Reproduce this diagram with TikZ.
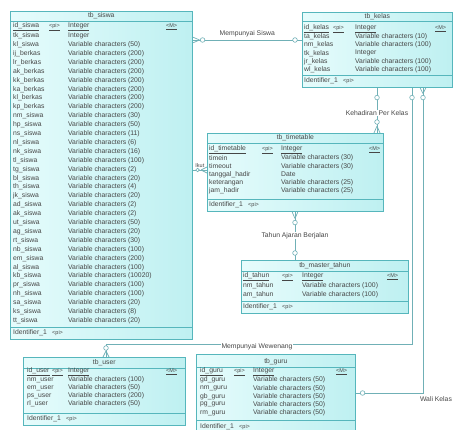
\documentclass[tikz,border=0pt]{standalone}
\usepackage{fontspec}
\setmainfont{Liberation Sans}
\usepackage{xcolor}
\definecolor{tableborder}{RGB}{86,182,188}
\definecolor{tablelight}{RGB}{230,252,252}
\definecolor{tabledark}{RGB}{190,240,241}
\definecolor{linkteal}{RGB}{112,176,182}
\definecolor{textgray}{RGB}{70,70,70}
\usepackage{tikz}
\usetikzlibrary{positioning, calc}

\begin{document}
\begin{tikzpicture}[x=1pt, y=-1pt,
    entity/.style={draw=tableborder, line width=0.6pt, left color=tablelight, right color=tabledark, anchor=north west, inner sep=0pt},
    sepline/.style={draw=tableborder, line width=0.5pt},
    attr/.style={anchor=west, inner sep=0pt, text=textgray, font=\fontsize{6.8}{8}\selectfont},
    tag/.style={anchor=west, inner sep=0pt, text=textgray, font=\fontsize{5.5}{6}\selectfont},
    tabtitle/.style={inner sep=0pt, text=textgray, font=\fontsize{6.8}{8}\selectfont},
    link/.style={draw=linkteal, line width=0.7pt},
    card/.style={circle, draw=linkteal, fill=white, line width=0.6pt, inner sep=0pt, minimum size=4.6pt},
    lbl/.style={fill=white, inner sep=0.5pt, text=textgray, font=\fontsize{6.8}{8}\selectfont}]

    \useasboundingbox (0,0) rectangle (453,430);
    \clip (0,0) rectangle (453,430);

    % tb_siswa
    \node[entity, minimum width=182, minimum height=328] (siswa) at (10,11) {};
    \node[tabtitle] (siswa-title) at ($(siswa.north)+(0,5)$) {tb\_siswa};
    \draw[sepline] ($(siswa.north west)+(0,10)$) -- ($(siswa.north east)+(0,10)$);
    \draw[sepline] ($(siswa.north west)+(0,316)$) -- ($(siswa.north east)+(0,316)$);
    \node[attr] (siswa-id) at ($(siswa.north west)+(3,16)$) {\underline{id\_siswa}};
    \node[tag] (siswa-pi) at ($(siswa.north west)+(39,16)$) {\underline{<pi>}};
    \node[attr] (siswa-ty) at ($(siswa.north west)+(58,16)$) {\underline{Integer}};
    \node[tag] (siswa-m) at ($(siswa.north west)+(156,16)$) {\underline{<M>}};
    \foreach \f/\t [count=\i] in {tk\_siswa/Integer, kl\_siswa/Variable characters (50),
        ij\_berkas/Variable characters (200), lr\_berkas/Variable characters (200),
        ak\_berkas/Variable characters (200), kk\_berkas/Variable characters (200),
        ka\_berkas/Variable characters (200), kl\_berkas/Variable characters (200),
        kp\_berkas/Variable characters (200), nm\_siswa/Variable characters (30),
        hp\_siswa/Variable characters (50), ns\_siswa/Variable characters (11),
        nl\_siswa/Variable characters (6), nk\_siswa/Variable characters (16),
        tl\_siswa/Variable characters (100), tg\_siswa/Variable characters (2),
        bl\_siswa/Variable characters (20), th\_siswa/Variable characters (4),
        jk\_siswa/Variable characters (20), ad\_siswa/Variable characters (2),
        ak\_siswa/Variable characters (2), ut\_siswa/Variable characters (50),
        ag\_siswa/Variable characters (20), rt\_siswa/Variable characters (30),
        nb\_siswa/Variable characters (100), em\_siswa/Variable characters (200),
        al\_siswa/Variable characters (100), kb\_siswa/Variable characters (10020),
        pr\_siswa/Variable characters (100), nh\_siswa/Variable characters (100),
        sa\_siswa/Variable characters (20), ks\_siswa/Variable characters (8),
        tt\_siswa/Variable characters (20)} {
        \node[attr] (siswa-f\i) at ($(siswa.north west)+(3,16+8.9*\i)$) {\f};
        \node[attr] (siswa-t\i) at ($(siswa.north west)+(58,16+8.9*\i)$) {\t};
    }
    \node[attr] (siswa-key) at ($(siswa.north west)+(3,322)$) {Identifier\_1};
    \node[tag, right=5pt of siswa-key] (siswa-keypi) {<pi>};

    % tb_kelas
    \node[entity, minimum width=150, minimum height=75] (kelas) at (302,12) {};
    \node[tabtitle] (kelas-title) at ($(kelas.north)+(0,5)$) {tb\_kelas};
    \draw[sepline] ($(kelas.north west)+(0,9)$) -- ($(kelas.north east)+(0,9)$);
    \draw[sepline] ($(kelas.north west)+(0,63)$) -- ($(kelas.north east)+(0,63)$);
    \node[attr] (kelas-id) at ($(kelas.north west)+(2,17)$) {\underline{id\_kelas}};
    \node[tag] (kelas-pi) at ($(kelas.north west)+(31,17)$) {\underline{<pi>}};
    \node[attr] (kelas-ty) at ($(kelas.north west)+(53,17)$) {\underline{Integer}};
    \node[tag] (kelas-m) at ($(kelas.north west)+(133,17)$) {\underline{<M>}};
    \foreach \f/\t [count=\i] in {ta\_kelas/Variable characters (10), nm\_kelas/Variable characters (100),
        tk\_kelas/Integer, jr\_kelas/Variable characters (100), wl\_kelas/Variable characters (100)} {
        \node[attr] (kelas-f\i) at ($(kelas.north west)+(2,17+8.1*\i)$) {\f};
        \node[attr] (kelas-t\i) at ($(kelas.north west)+(53,17+8.1*\i)$) {\t};
    }
    \node[attr] (kelas-key) at ($(kelas.north west)+(2,69)$) {Identifier\_1};
    \node[tag, right=5pt of kelas-key] (kelas-keypi) {<pi>};

    % tb_timetable
    \node[entity, minimum width=176, minimum height=78] (timetable) at (207,133) {};
    \node[tabtitle] (timetable-title) at ($(timetable.north)+(0,5)$) {tb\_timetable};
    \draw[sepline] ($(timetable.north west)+(0,10)$) -- ($(timetable.north east)+(0,10)$);
    \draw[sepline] ($(timetable.north west)+(0,66)$) -- ($(timetable.north east)+(0,66)$);
    \node[attr] (timetable-id) at ($(timetable.north west)+(2,17)$) {\underline{id\_timetable}};
    \node[tag] (timetable-pi) at ($(timetable.north west)+(55,17)$) {\underline{<pi>}};
    \node[attr] (timetable-ty) at ($(timetable.north west)+(74,17)$) {\underline{Integer}};
    \node[tag] (timetable-m) at ($(timetable.north west)+(162,17)$) {\underline{<M>}};
    \foreach \f/\t [count=\i] in {timein/Variable characters (30), timeout/Variable characters (30),
        tanggal\_hadir/Date, keterangan/Variable characters (25), jam\_hadir/Variable characters (25)} {
        \node[attr] (timetable-f\i) at ($(timetable.north west)+(2,17+8.2*\i)$) {\f};
        \node[attr] (timetable-t\i) at ($(timetable.north west)+(74,17+8.2*\i)$) {\t};
    }
    \node[attr] (timetable-key) at ($(timetable.north west)+(2,72)$) {Identifier\_1};
    \node[tag, right=5pt of timetable-key] (timetable-keypi) {<pi>};

    % tb_master_tahun
    \node[entity, minimum width=167, minimum height=53] (tahun) at (241,260) {};
    \node[tabtitle] (tahun-title) at ($(tahun.north)+(0,6)$) {tb\_master\_tahun};
    \draw[sepline] ($(tahun.north west)+(0,11)$) -- ($(tahun.north east)+(0,11)$);
    \draw[sepline] ($(tahun.north west)+(0,41)$) -- ($(tahun.north east)+(0,41)$);
    \node[attr] (tahun-id) at ($(tahun.north west)+(2,17)$) {\underline{id\_tahun}};
    \node[tag] (tahun-pi) at ($(tahun.north west)+(41,17)$) {\underline{<pi>}};
    \node[attr] (tahun-ty) at ($(tahun.north west)+(61,17)$) {\underline{Integer}};
    \node[tag] (tahun-m) at ($(tahun.north west)+(146,17)$) {\underline{<M>}};
    \foreach \f/\t [count=\i] in {nm\_tahun/Variable characters (100), am\_tahun/Variable characters (100)} {
        \node[attr] (tahun-f\i) at ($(tahun.north west)+(2,17+9*\i)$) {\f};
        \node[attr] (tahun-t\i) at ($(tahun.north west)+(61,17+9*\i)$) {\t};
    }
    \node[attr] (tahun-key) at ($(tahun.north west)+(2,47)$) {Identifier\_1};
    \node[tag, right=5pt of tahun-key] (tahun-keypi) {<pi>};

    % tb_user
    \node[entity, minimum width=162, minimum height=68] (user) at (23,357) {};
    \node[tabtitle] (user-title) at ($(user.north)+(0,6)$) {tb\_user};
    \draw[sepline] ($(user.north west)+(0,11)$) -- ($(user.north east)+(0,11)$);
    \draw[sepline] ($(user.north west)+(0,56)$) -- ($(user.north east)+(0,56)$);
    \node[attr] (user-id) at ($(user.north west)+(4,15)$) {\underline{id\_user}};
    \node[tag] (user-pi) at ($(user.north west)+(29,15)$) {\underline{<pi>}};
    \node[attr] (user-ty) at ($(user.north west)+(45,15)$) {\underline{Integer}};
    \node[tag] (user-m) at ($(user.north west)+(143,15)$) {\underline{<M>}};
    \foreach \f/\t [count=\i] in {nm\_user/Variable characters (100), em\_user/Variable characters (50),
        ps\_user/Variable characters (200), rl\_user/Variable characters (50)} {
        \node[attr] (user-f\i) at ($(user.north west)+(4,15+8*\i)$) {\f};
        \node[attr] (user-t\i) at ($(user.north west)+(45,15+8*\i)$) {\t};
    }
    \node[attr] (user-key) at ($(user.north west)+(4,62)$) {Identifier\_1};
    \node[tag, right=5pt of user-key] (user-keypi) {<pi>};

    % tb_guru
    \node[entity, minimum width=159, minimum height=82] (guru) at (196,354) {};
    \node[tabtitle] (guru-title) at ($(guru.north)+(0,8)$) {tb\_guru};
    \draw[sepline] ($(guru.north west)+(0,13)$) -- ($(guru.north east)+(0,13)$);
    \draw[sepline] ($(guru.north west)+(0,66)$) -- ($(guru.north east)+(0,66)$);
    \node[attr] (guru-id) at ($(guru.north west)+(4,18)$) {\underline{id\_guru}};
    \node[tag] (guru-pi) at ($(guru.north west)+(38,18)$) {\underline{<pi>}};
    \node[attr] (guru-ty) at ($(guru.north west)+(57,18)$) {\underline{Integer}};
    \node[tag] (guru-m) at ($(guru.north west)+(140,18)$) {\underline{<M>}};
    \foreach \f/\t [count=\i] in {gd\_guru/Variable characters (50), nm\_guru/Variable characters (50),
        gb\_guru/Variable characters (50), pg\_guru/Variable characters (50), rm\_guru/Variable characters (50)} {
        \node[attr] (guru-f\i) at ($(guru.north west)+(4,18+8.2*\i)$) {\f};
        \node[attr] (guru-t\i) at ($(guru.north west)+(57,18+8.2*\i)$) {\t};
    }
    \node[attr] (guru-key) at ($(guru.north west)+(4,73)$) {Identifier\_1};
    \node[tag, right=5pt of guru-key] (guru-keypi) {<pi>};

    % relations
    \coordinate (sk) at (0,40);
    \coordinate (st) at (0,170);
    \coordinate (kt) at (377,0);
    \coordinate (tm) at (295,0);
    \coordinate (ku) at (412,344);
    \coordinate (ku2) at (106,344);
    \coordinate (kg) at (423,393);

    \draw[link] (siswa.east |- sk) -- (kelas.west |- sk) node[midway, above=2pt, lbl, fill=none] (sk-label) {Mempunyai Siswa};
    \draw[link] ($(siswa.east |- sk)+(7,0)$) -- ($(siswa.east |- sk)+(0,-3)$)
                ($(siswa.east |- sk)+(7,0)$) -- ($(siswa.east |- sk)+(0,3)$);
    \node[card] (sk-c1) at ($(siswa.east |- sk)+(10,0)$) {};
    \node[card] (sk-c2) at ($(kelas.west |- sk)+(-7,0)$) {};

    \draw[link] (siswa.east |- st) -- (timetable.west |- st);
    \draw[link] ($(timetable.west |- st)+(-6,0)$) -- ($(timetable.west |- st)+(0,-3)$)
                ($(timetable.west |- st)+(-6,0)$) -- ($(timetable.west |- st)+(0,3)$);
    \node[card, minimum size=3.6pt] (st-c1) at ($(siswa.east |- st)+(5,0)$) {};
    \node[lbl, fill=none, anchor=south east, font=\fontsize{5.5}{6}\selectfont] (st-label) at ($(timetable.west |- st)+(-2,-2)$) {Ikut};

    \draw[link] (kelas.south -| kt) -- (timetable.north -| kt) node[pos=0.57, lbl] (kt-label) {Kehadiran Per Kelas};
    \draw[link] ($(timetable.north -| kt)+(0,-7)$) -- ($(timetable.north -| kt)+(-3,0)$)
                ($(timetable.north -| kt)+(0,-7)$) -- ($(timetable.north -| kt)+(3,0)$);
    \node[card] (kt-c1) at ($(kelas.south -| kt)+(0,10)$) {};
    \node[card] (kt-c2) at ($(timetable.north -| kt)+(0,-11)$) {};

    \draw[link] (timetable.south -| tm) -- (tahun.north -| tm) node[midway, lbl] (tm-label) {Tahun Ajaran Berjalan};
    \draw[link] ($(timetable.south -| tm)+(0,7)$) -- ($(timetable.south -| tm)+(-3,0)$)
                ($(timetable.south -| tm)+(0,7)$) -- ($(timetable.south -| tm)+(3,0)$);
    \node[card] (tm-c1) at ($(timetable.south -| tm)+(0,11)$) {};
    \node[card] (tm-c2) at ($(tahun.north -| tm)+(0,-7)$) {};

    \draw[link] (kelas.south -| ku) -- (ku) -- (ku2) -- (user.north -| ku2);
    \draw[link] ($(user.north -| ku2)+(0,-6)$) -- ($(user.north -| ku2)+(-3,0)$)
                ($(user.north -| ku2)+(0,-6)$) -- ($(user.north -| ku2)+(3,0)$);
    \node[card] (ku-c1) at ($(kelas.south -| ku)+(0,10)$) {};
    \node[card] (ku-c2) at ($(user.north -| ku2)+(0,-9)$) {};
    \node[lbl] (ku-label) at (257,347) {Mempunyai Wewenang};

    \draw[link] (kelas.south -| kg) -- (kg) -- (guru.east |- kg);
    \draw[link] ($(kelas.south -| kg)+(0,6)$) -- ($(kelas.south -| kg)+(-3,0)$)
                ($(kelas.south -| kg)+(0,6)$) -- ($(kelas.south -| kg)+(3,0)$);
    \node[card] (kg-c1) at ($(kelas.south -| kg)+(0,10)$) {};
    \node[card] (kg-c2) at ($(guru.east |- kg)+(7,0)$) {};
    \node[lbl, fill=none, anchor=north] (kg-label) at ($(kg)+(13,3)$) {Wali Kelas};
\end{tikzpicture}
\end{document}
